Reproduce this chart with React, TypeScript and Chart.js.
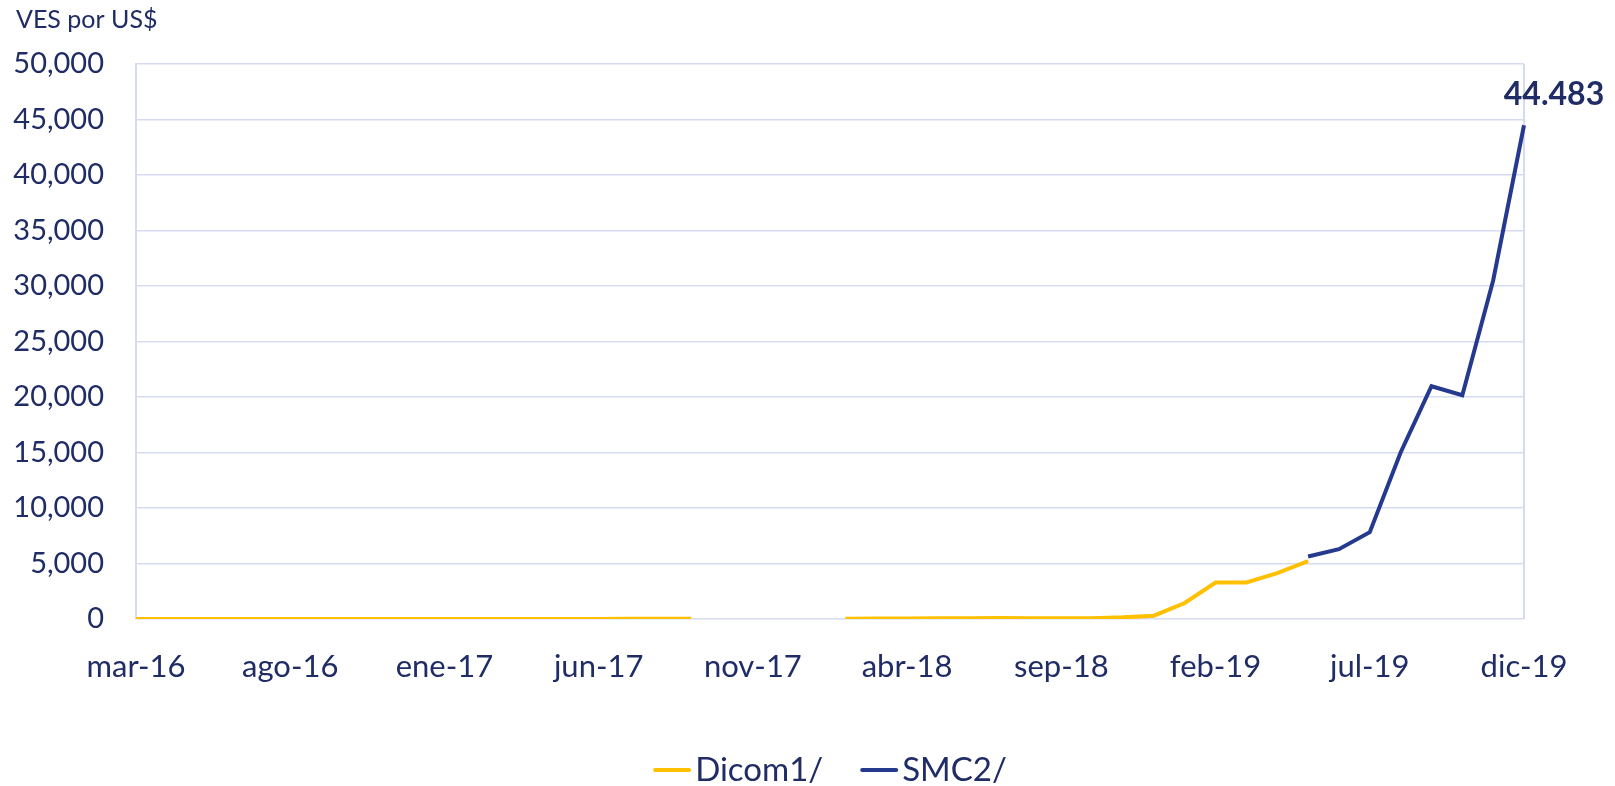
import React, { useEffect, useRef } from "react";
import { Chart, registerables } from "chart.js";

Chart.register(...registerables);

const MONTHS = ["ene", "feb", "mar", "abr", "may", "jun", "jul", "ago", "sep", "oct", "nov", "dic"];
const categories: string[] = [];
for (let y = 16; y <= 19; y++) {
  for (let m = 0; m < 12; m++) {
    if (y === 16 && m < 2) continue;
    categories.push(`${MONTHS[m]}-${y}`);
  }
}

const dicom: (number | null)[] = [
  3, 4, 5, 6, 6, 7, 7, 7, 7, 7, 7, 7, 8, 8, 9, 10, 20, 30, 33,
  null, null, null, null,
  30, 40, 50, 60, 70, 90, 60, 62, 64, 150, 300, 1440, 3290, 3290, 4140, 5220,
  null, null, null, null, null, null, null,
];

const smc: (number | null)[] = [
  ...Array(38).fill(null),
  5630, 6290, 7820, 15000, 20970, 20160, 30500, 44483,
];

const seriesNames = ["Dicom1/", "SMC2/"];
const lastLabel = "44.483";
const yTitle = "VES por US$";

const TEXT = "#1F2C66";
const GRID = "#D6DBF2";
const YELLOW = "#FFC000";
const NAVY = "#253A8E";
const FONT = "Lato, 'Open Sans', sans-serif";

export default function App() {
  const ref = useRef<HTMLCanvasElement | null>(null);
  useEffect(() => {
    if (!ref.current) return;
    const annot = {
      id: "annot",
      afterDraw(chart: any) {
        const ctx = chart.ctx;
        ctx.save();
        ctx.fillStyle = TEXT;
        ctx.font = `25px ${FONT}`;
        ctx.textAlign = "left";
        ctx.textBaseline = "alphabetic";
        ctx.fillText(yTitle, 16, 28);

        const meta = chart.getDatasetMeta(1);
        const pt = meta.data[meta.data.length - 1];
        ctx.font = `bold 32px ${FONT}`;
        ctx.textAlign = "center";
        ctx.fillText(lastLabel, pt.x + 30, pt.y - 20);

        // legend
        const ds = chart.data.datasets;
        ctx.font = `33px ${FONT}`;
        ctx.textBaseline = "middle";
        ctx.textAlign = "left";
        const lineW = 38;
        const gapText = 4;
        const gapItem = 37;
        let total = 0;
        const widths = ds.map((d: any) => ctx.measureText(d.label).width);
        widths.forEach((w: number, i: number) => {
          total += lineW + gapText + w + (i < widths.length - 1 ? gapItem : 0);
        });
        const area = chart.chartArea;
        let x = (area.left + area.right) / 2 - total / 2;
        const y = 770;
        ds.forEach((d: any, i: number) => {
          ctx.strokeStyle = d.borderColor;
          ctx.lineWidth = 4;
          ctx.lineCap = "round";
          ctx.beginPath();
          ctx.moveTo(x + 2, y);
          ctx.lineTo(x + lineW - 2, y);
          ctx.stroke();
          x += lineW + gapText;
          ctx.fillStyle = TEXT;
          ctx.fillText(d.label, x, y);
          x += widths[i] + gapItem;
        });
        ctx.restore();
      },
    };
    const chart = new Chart(ref.current, {
      type: "line",
      data: {
        labels: categories,
        datasets: [
          {
            label: seriesNames[0],
            data: dicom,
            borderColor: YELLOW,
            backgroundColor: YELLOW,
            borderWidth: 4,
            pointRadius: 0,
            tension: 0,
            spanGaps: false,
          },
          {
            label: seriesNames[1],
            data: smc,
            borderColor: NAVY,
            backgroundColor: NAVY,
            borderWidth: 4,
            pointRadius: 0,
            tension: 0,
            spanGaps: false,
          },
        ],
      },
      options: {
        animation: false,
        responsive: false,
        maintainAspectRatio: false,
        layout: { padding: { left: 0, right: 91, top: 64, bottom: 0 } },
        plugins: {
          legend: { display: false },
          tooltip: { enabled: false },
          title: { display: false },
        },
        scales: {
          x: {
            type: "category",
            offset: false,
            grid: {
              drawTicks: false,
              color: (c: any) => (c.index === categories.length - 1 ? GRID : "transparent"),
              lineWidth: 2,
            },
            border: { display: false },
            ticks: {
              autoSkip: false,
              maxRotation: 0,
              color: TEXT,
              font: { family: FONT, size: 31 },
              padding: 29,
              callback: (_v: any, i: number) => (i % 5 === 0 ? categories[i] : ""),
            },
            afterFit: (s: any) => {
              s.height = 167;
            },
          },
          y: {
            min: 0,
            max: 50000,
            grid: { color: GRID, lineWidth: 1.5, drawTicks: false },
            border: { color: GRID, width: 2 },
            ticks: {
              stepSize: 5000,
              color: TEXT,
              font: { family: FONT, size: 29 },
              padding: 32,
              callback: (v: any) => Number(v).toLocaleString("en-US"),
            },
            afterFit: (s: any) => {
              s.width = 136;
            },
          },
        },
      },
      plugins: [annot],
    });
    return () => chart.destroy();
  }, []);
  return (
    <div style={{ position: "fixed", left: 0, top: 0, width: 1615, height: 786, background: "#fff" }}>
      <canvas ref={ref} width={1615} height={786} style={{ display: "block" }} />
    </div>
  );
}
